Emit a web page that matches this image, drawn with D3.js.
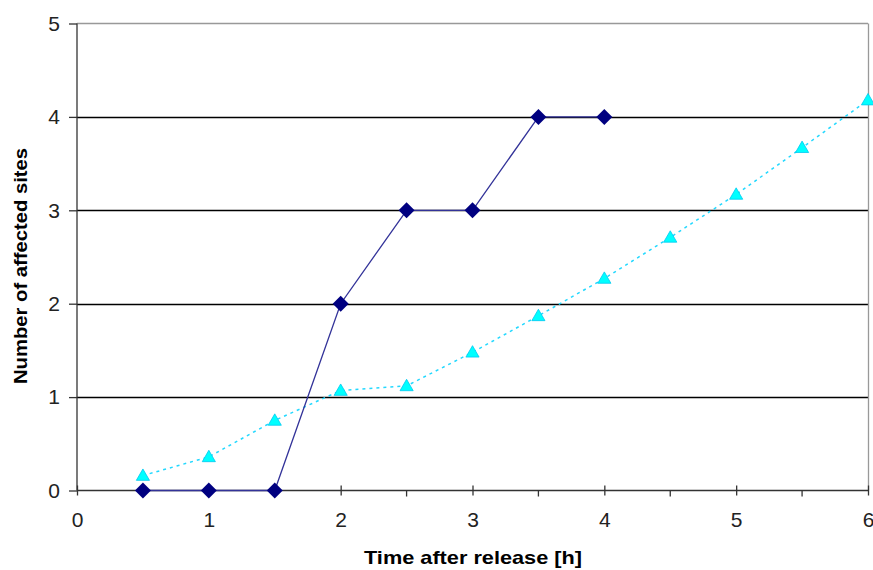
<!DOCTYPE html>
<html><head><meta charset="utf-8">
<script src="https://cdn.jsdelivr.net/npm/d3@7"></script>
<style>body{margin:0;background:#fff;}svg{display:block;font-family:Arial,"Liberation Sans",sans-serif;}</style>
</head><body>
<svg id="c" width="873" height="570"></svg>
<script>
const diamondX = [0.5, 1, 1.5, 2, 2.5, 3, 3.5, 4];
const diamondY = [0, 0, 0, 2, 3, 3, 4, 4];
const triangleX = [0.5, 1, 1.5, 2, 2.5, 3, 3.5, 4, 4.5, 5, 5.5, 6];
const triangleY = [0.16, 0.36, 0.75, 1.07, 1.12, 1.48, 1.87, 2.27, 2.71, 3.17, 3.67, 4.18];
const xTicks = [0, 1, 2, 3, 4, 5, 6];
const xMinor = [0.5, 1.5, 2.5, 3.5, 4.5, 5.5];
const yTicks = [0, 1, 2, 3, 4, 5];
const xTitle = "Time after release [h]";
const yTitle = "Number of affected sites";

const svg = d3.select("#c");
const L = 77, R = 868, T = 23.5, B = 490.5;
const x = d3.scaleLinear().domain([0, 6]).range([L, R]);
const y = d3.scaleLinear().domain([0, 5]).range([B, T]);

// gridlines
svg.append("g").selectAll("line").data(yTicks.filter(d => d > 0 && d < 5)).join("line")
  .attr("x1", L).attr("x2", R).attr("y1", d => Math.round(y(d)) + 0.5).attr("y2", d => Math.round(y(d)) + 0.5)
  .attr("stroke", "#000").attr("stroke-width", 1.3);
// top & right border
svg.append("line").attr("x1", L).attr("x2", R).attr("y1", T).attr("y2", T).attr("stroke", "#999").attr("stroke-width", 1.3);
svg.append("line").attr("x1", R + 0.5).attr("x2", R + 0.5).attr("y1", T).attr("y2", B).attr("stroke", "#999").attr("stroke-width", 1.3);

// y axis
const ya = svg.append("g").attr("transform", `translate(${L},0)`)
  .call(d3.axisLeft(y).tickValues(yTicks).tickSize(8).tickPadding(9).tickFormat(d3.format("d")));
ya.select(".domain").attr("stroke", "#333").attr("stroke-width", 1.3).attr("d", `M0,${T}V${B}`);
ya.selectAll(".tick line").attr("stroke", "#333").attr("stroke-width", 1.3);
ya.selectAll("text").attr("font-size", 21).attr("fill", "#222").attr("font-family", "Arial, 'Liberation Sans', sans-serif");

// x axis
const xa = svg.append("g").attr("transform", `translate(0,${B})`)
  .call(d3.axisBottom(x).tickValues(xTicks).tickSize(5).tickPadding(17).tickFormat(d3.format("d")));
xa.select(".domain").attr("stroke", "#333").attr("stroke-width", 1.3).attr("d", `M${L},0H${R}`);
xa.selectAll(".tick line").attr("stroke", "#333").attr("stroke-width", 1.3).attr("y1", -5).attr("y2", 5);
xa.selectAll("text").attr("font-size", 21).attr("fill", "#222").attr("font-family", "Arial, 'Liberation Sans', sans-serif");
svg.append("g").selectAll("line").data(xMinor).join("line")
  .attr("x1", d => x(d)).attr("x2", d => x(d)).attr("y1", B).attr("y2", B + 6)
  .attr("stroke", "#333").attr("stroke-width", 1.3);

// triangle series
const triData = triangleX.map((v, i) => [v, triangleY[i]]);
svg.append("path").datum(triData)
  .attr("d", d3.line().x(d => x(d[0])).y(d => y(d[1])))
  .attr("fill", "none").attr("stroke", "#22d8ff").attr("stroke-width", 1.5).attr("stroke-dasharray", "3,4");
svg.append("g").selectAll("path").data(triData).join("path")
  .attr("d", d3.symbol(d3.symbolTriangle, 75)())
  .attr("transform", d => `translate(${x(d[0])},${y(d[1]) + 1})`)
  .attr("fill", "#00ffff").attr("stroke", "#00c8f0").attr("stroke-width", 0.8);

// diamond series
const diaData = diamondX.map((v, i) => [v, diamondY[i]]);
svg.append("path").datum(diaData)
  .attr("d", d3.line().x(d => x(d[0])).y(d => y(d[1])))
  .attr("fill", "none").attr("stroke", "#333399").attr("stroke-width", 1.3);
svg.append("g").selectAll("path").data(diaData).join("path")
  .attr("d", "M0,-8L8,0L0,8L-8,0Z")
  .attr("transform", d => `translate(${x(d[0])},${y(d[1])})`)
  .attr("fill", "#000080");

// titles
svg.append("text").attr("x", 473).attr("y", 564).attr("text-anchor", "middle")
  .attr("font-size", 19).attr("font-weight", "bold").attr("fill", "#000")
  .attr("textLength", 218).attr("lengthAdjust", "spacingAndGlyphs").text(xTitle);
svg.append("text").attr("transform", "translate(27,266) rotate(-90)").attr("text-anchor", "middle")
  .attr("font-size", 19).attr("font-weight", "bold").attr("fill", "#000")
  .attr("textLength", 236).attr("lengthAdjust", "spacingAndGlyphs").text(yTitle);
</script>
</body></html>
